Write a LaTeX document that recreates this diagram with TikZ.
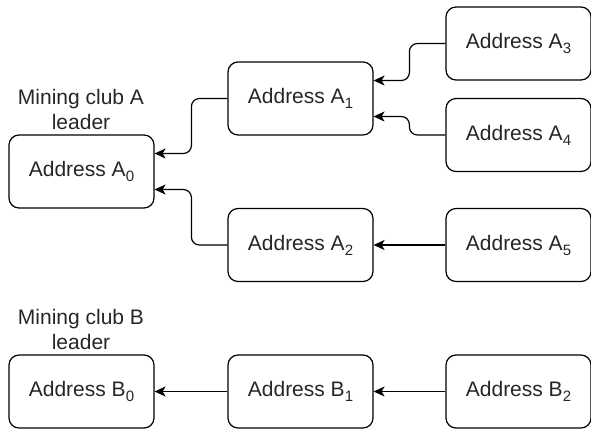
\documentclass[tikz,border=0pt]{standalone}
\usepackage{fontspec}
\setmainfont{Liberation Sans}
\usetikzlibrary{arrows.meta}
\tikzset{
  addr/.style={draw, line width=1.2pt, rounded corners=10pt, minimum width=145pt, minimum height=73pt, inner sep=0pt, font=\fontsize{21}{25}\selectfont, text=black!85},
  lbl/.style={align=center, inner sep=0pt, font=\fontsize{21}{25}\selectfont, text=black!85},
  conn/.style={line width=1.2pt, rounded corners=8pt, -{Stealth[length=11pt, width=10pt, inset=3pt]}}
}
\newcommand{\subx}[1]{\raisebox{-5pt}{\fontsize{15}{15}\selectfont #1}}
\begin{document}
\begin{tikzpicture}[x=1pt, y=-1pt]
\useasboundingbox (0,0) rectangle (591,429);
\node[addr] (A0) at (81.5,171.5) {Address A\subx{0}};
\node[addr] (A1) at (300.5,98.5) {Address A\subx{1}};
\node[addr] (A3) at (518.5,43.5) {Address A\subx{3}};
\node[addr] (A4) at (518.5,135) {Address A\subx{4}};
\node[addr] (A2) at (300.5,245) {Address A\subx{2}};
\node[addr] (A5) at (518.5,245) {Address A\subx{5}};
\node[addr] (B0) at (81.5,391.5) {Address B\subx{0}};
\node[addr] (B1) at (300.5,391.5) {Address B\subx{1}};
\node[addr] (B2) at (518.5,391.5) {Address B\subx{2}};
\node[lbl] (LA) at (81,109) {Mining club A\\leader};
\node[lbl] (LB) at (81,329) {Mining club B\\leader};
\draw[conn] (A1.west) -- ++(-36,0) |- ([yshift=18pt]A0.east);
\draw[conn] (A2.west) -- ++(-36,0) |- ([yshift=-18pt]A0.east);
\draw[conn] (A3.west) -- ++(-36,0) |- ([yshift=18pt]A1.east);
\draw[conn] (A4.west) -- ++(-36,0) |- ([yshift=-18pt]A1.east);
\draw[conn] (A5.west) -- (A2.east);
\draw[conn] (B2.west) -- (B1.east);
\draw[conn] (B1.west) -- (B0.east);
\end{tikzpicture}
\end{document}
